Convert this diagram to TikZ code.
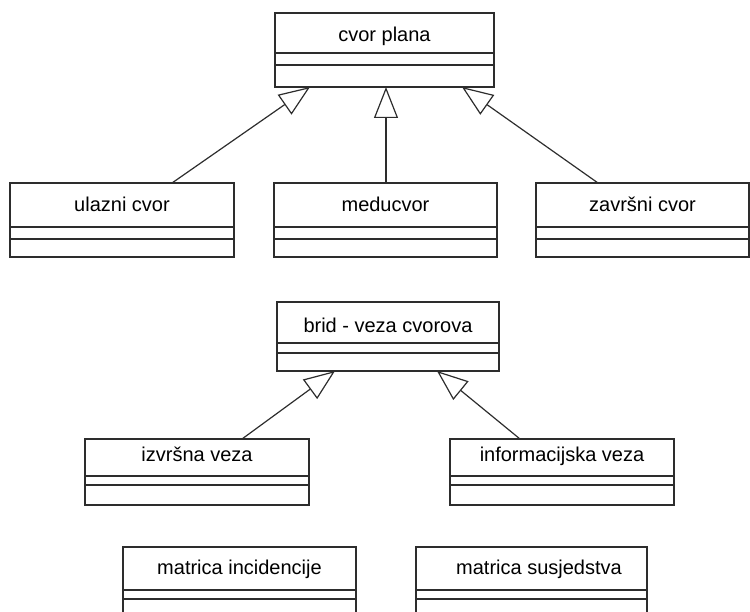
\documentclass[tikz,border=0pt]{standalone}
\usepackage{fontspec}
\setmainfont{Liberation Sans}
\usetikzlibrary{arrows.meta,calc,fit}
\definecolor{ln}{RGB}{45,45,45}
\tikzset{
  cls/.style={draw=ln, line width=1.3pt, rectangle, inner sep=0pt, outer sep=0pt},
  dl/.style={draw=ln, line width=1.3pt},
  ttl/.style={font=\fontsize{20}{24}\selectfont, text=black, inner sep=0pt, anchor=base},
  gen/.style={draw=ln, line width=1.2pt, line join=miter,
    -{Triangle[length=31pt,width=24pt,fill=white,line width=1.2pt]}}
}
% name, x1, y1, x2, y2, d1, d2, baseline, text
\newcommand\umlbox[9]{%
  \node[cls, fit={(#2,#3) (#4,#5)}] (#1) {};
  \draw[dl] (#2,#6) -- (#4,#6);
  \draw[dl] (#2,#7) -- (#4,#7);
  \node[ttl] (#1t) at ({(#2+#4)/2},#8) {#9};
}
\begin{document}
\begin{tikzpicture}[x=1pt,y=-1pt]
\useasboundingbox (0,0) rectangle (750,612);
\clip (0,0) rectangle (750,612);
\umlbox{plana}{275}{13}{494}{87}{53}{65}{41.7}{cvor plana}
\umlbox{ulazni}{10}{183}{234}{257}{227}{239}{211.7}{ulazni cvor}
\umlbox{medu}{274}{183}{497}{257}{227}{239}{211.7}{meducvor}
\umlbox{zavrs}{536}{183}{749}{257}{227}{239}{211.7}{završni cvor}
\umlbox{brid}{277}{302}{499}{371}{343}{353}{332.7}{brid - veza cvorova}
\umlbox{izvr}{85}{439}{309}{505}{476}{485}{461.7}{izvršna veza}
\umlbox{info}{450}{439}{674}{505}{476}{485}{461.7}{informacijska veza}
\umlbox{inc}{123}{547}{356}{640}{590}{599}{574}{matrica incidencije}
\node[cls, fit={(416,547) (647,640)}] (sus) {};
\draw[dl] (416,590) -- (647,590);
\draw[dl] (416,599) -- (647,599);
\node[ttl] (sust) at (539,574) {matrica susjedstva};
% generalisations
\draw[gen] ($(ulazni.north west)+(162,0)$) -- ($(plana.south west)+(35,0)$);
\draw[gen] ($(medu.north west)+(112,0)$) -- ($(plana.south west)+(111,0)$);
\draw[gen] ($(zavrs.north west)+(62,0)$) -- ($(plana.south west)+(187,0)$);
\draw[gen] ($(izvr.north west)+(157,0)$) -- ($(brid.south west)+(58,0)$);
\draw[gen] ($(info.north west)+(70,0)$) -- ($(brid.south west)+(160,0)$);
\end{tikzpicture}
\end{document}
